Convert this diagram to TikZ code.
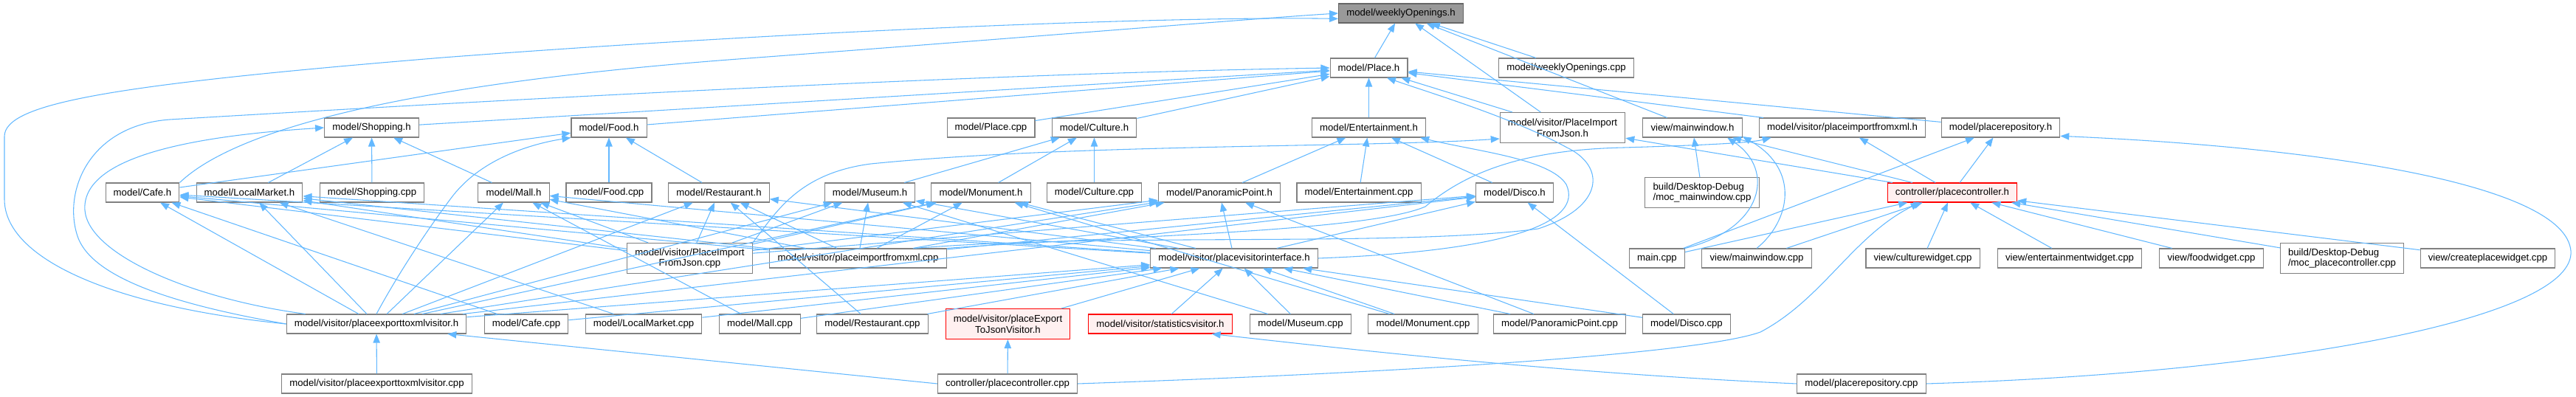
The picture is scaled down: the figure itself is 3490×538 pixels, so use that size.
\documentclass[tikz,border=0pt]{standalone}
\usepackage{fontspec}
\setmainfont{Liberation Sans}
\usetikzlibrary{arrows.meta}
\definecolor{edgeblue}{HTML}{63B8FF}
\definecolor{boxline}{HTML}{808080}
\definecolor{rootfill}{HTML}{999999}
\definecolor{rootline}{HTML}{666666}
\definecolor{warnfill}{HTML}{FFF0F0}

\begin{document}
\begin{tikzpicture}[x=0.75pt,y=-0.75pt,>={Triangle[length=9pt,width=7pt]},
  file/.style={draw=boxline,fill=white,line width=0.8pt,inner xsep=8pt,inner ysep=0pt,
    minimum height=19.5pt,font=\fontsize{9.9}{11}\selectfont,align=center},
  tall/.style={file,minimum height=30.75pt},
  rootfile/.style={file,fill=rootfill,draw=rootline},
  warnfile/.style={file,fill=warnfill,draw=red},
  dep/.style={->,draw=edgeblue,line width=0.8pt}]
  \useasboundingbox (0,0) rectangle (3490,538);
  % rows of files
  \node[rootfile] (W) at (1898,18) {model/weeklyOpenings.h};
  \node[file] (P) at (1854.5,92) {model/Place.h};
  \node[file] (WC) at (2122,92) {model/weeklyOpenings.cpp};
  \node[file] (SH) at (503.5,173) {model/Shopping.h};
  \node[file] (FH) at (825,173) {model/Food.h};
  \node[file] (PCPP) at (1342.5,173) {model/Place.cpp};
  \node[file] (CH) at (1482.5,173) {model/Culture.h};
  \node[file] (EH) at (1854.5,173) {model/Entertainment.h};
  \node[tall] (PIJH) at (2117,173) {model/visitor/PlaceImport\\FromJson.h};
  \node[file] (MWH) at (2293,173) {view/mainwindow.h};
  \node[file] (PIXH) at (2496,173) {model/visitor/placeimportfromxml.h};
  \node[file] (PRH) at (2710.5,173) {model/placerepository.h};
  \node[file] (CAH) at (193,261) {model/Cafe.h};
  \node[file] (LMH) at (338,261) {model/LocalMarket.h};
  \node[file] (SCPP) at (504,261) {model/Shopping.cpp};
  \node[file] (MAH) at (696,261) {model/Mall.h};
  \node[file] (FCPP) at (825,261) {model/Food.cpp};
  \node[file] (RH) at (974,261) {model/Restaurant.h};
  \node[file] (MUH) at (1178.5,261) {model/Museum.h};
  \node[file] (MOH) at (1329,261) {model/Monument.h};
  \node[file] (CCPP) at (1482.5,261) {model/Culture.cpp};
  \node[file] (PPH) at (1652,261) {model/PanoramicPoint.h};
  \node[file] (ECPP) at (1841,261) {model/Entertainment.cpp};
  \node[file] (DH) at (2052,261) {model/Disco.h};
  \node[tall,align=left] (MOCMW) at (2306,261) {build/Desktop-Debug\\/moc\_mainwindow.cpp};
  \node[warnfile] (PCH) at (2645,261) {controller/placecontroller.h};
  \node[tall] (PIJC) at (934.5,350) {model/visitor/PlaceImport\\FromJson.cpp};
  \node[file] (PIXC) at (1162.5,350) {model/visitor/placeimportfromxml.cpp};
  \node[file] (PVI) at (1672,350) {model/visitor/placevisitorinterface.h};
  \node[file] (MAIN) at (2245,350) {main.cpp};
  \node[file] (MWC) at (2380,350) {view/mainwindow.cpp};
  \node[file] (CWC) at (2605,350) {view/culturewidget.cpp};
  \node[file] (EWC) at (2804,350) {view/entertainmentwidget.cpp};
  \node[file] (FWC) at (2996,350) {view/foodwidget.cpp};
  \node[tall,align=left] (MOCPC) at (3173,350) {build/Desktop-Debug\\/moc\_placecontroller.cpp};
  \node[file] (CPW) at (3370.5,350) {view/createplacewidget.cpp};
  \node[file] (PEXH) at (510,439) {model/visitor/placeexporttoxmlvisitor.h};
  \node[file] (CACPP) at (713,439) {model/Cafe.cpp};
  \node[file] (LMCPP) at (872,439) {model/LocalMarket.cpp};
  \node[file] (MACPP) at (1029.5,439) {model/Mall.cpp};
  \node[file] (RCPP) at (1182,439) {model/Restaurant.cpp};
  \node[warnfile,minimum height=30.75pt] (PEJH) at (1365.5,439) {model/visitor/placeExport\\ToJsonVisitor.h};
  \node[warnfile] (STH) at (1572,439) {model/visitor/statisticsvisitor.h};
  \node[file] (MUCPP) at (1762,439) {model/Museum.cpp};
  \node[file] (MOCPP) at (1928,439) {model/Monument.cpp};
  \node[file] (PPCPP) at (2113,439) {model/PanoramicPoint.cpp};
  \node[file] (DCPP) at (2285,439) {model/Disco.cpp};
  \node[file] (PEXC) at (510.5,520) {model/visitor/placeexporttoxmlvisitor.cpp};
  \node[file] (PCC) at (1365,520) {controller/placecontroller.cpp};
  \node[file] (PRC) at (2522,520) {model/placerepository.cpp};
  % straight includes
  \foreach \a/\b in {P/W,WC/W,MWH/W,PIJH/W,SH/P,FH/P,PCPP/P,CH/P,EH/P,PIJH/P,PIXH/P,PRH/P,
    LMH/SH,SCPP/SH,MAH/SH,CAH/FH,FCPP/FH,RH/FH,MUH/CH,MOH/CH,CCPP/CH,ECPP/EH,DH/EH,PPH/EH,
    PCH/PIJH,PCH/MWH,PCH/PIXH,PCH/PRH,MOCMW/MWH,MAIN/PRH,MAIN/PCH,MWC/PCH,CWC/PCH,EWC/PCH,
    FWC/PCH,MOCPC/PCH,CPW/PCH,CACPP/CAH,LMCPP/LMH,MACPP/MAH,RCPP/RH,MUCPP/MUH,MOCPP/MOH,
    PPCPP/PPH,DCPP/DH,CACPP/PVI,LMCPP/PVI,MACPP/PVI,RCPP/PVI,PEJH/PVI,STH/PVI,MUCPP/PVI,
    MOCPP/PVI,PPCPP/PVI,DCPP/PVI,PEXH/PVI,PEXC/PEXH,PCC/PEJH}
    \draw[dep] (\a) -- (\b);
  \foreach \a in {PVI,PIJC,PIXC,PEXH}
    \foreach \b in {CAH,LMH,MAH,RH,MUH,MOH,PPH,DH}
      \draw[dep] (\a) -- (\b);
  % routed includes
  \draw[dep] (CAH.north east) .. controls (330,165) and (600,110) .. (1000,80) .. controls (1400,50) and (1700,25) .. (W.west);
  \draw[dep] (PEXH.west) .. controls (150,415) and (6,350) .. (6,270) -- (6,185) .. controls (6,140) and (150,115) .. (600,78) .. controls (1100,40) and (1600,22) .. (W.185);
  \draw[dep] (PEXH.west) .. controls (250,415) and (125,380) .. (105,320) .. controls (85,260) and (120,170) .. (230,162) .. controls (600,140) and (1300,100) .. (P.west);
  \draw[dep] (PEXH.172) .. controls (260,405) and (120,345) .. (115,285) .. controls (110,215) and (250,185) .. (SH.west);
  \draw[dep] (PEXH.north) .. controls (540,370) and (580,310) .. (610,270) .. controls (650,215) and (720,195) .. (FH.south west);
  \draw[dep] (PIJC.north east) .. controls (1050,290) and (1080,235) .. (1180,222) .. controls (1450,195) and (1850,200) .. (PIJH.190);
  \draw[dep] (PIXC.north east) .. controls (1500,320) and (1850,315) .. (1931,280) .. controls (1985,235) and (2060,203) .. (2200,200) .. controls (2300,197) and (2370,194) .. (PIXH.188);
  \draw[dep] (PIXC.10) .. controls (1500,315) and (1900,335) .. (2084,310) .. controls (2175,280) and (2175,225) .. (2123,200) .. controls (2050,160) and (1950,130) .. (P.-29);
  \draw[dep] (PVI.east) .. controls (2050,340) and (2145,300) .. (2122,250) .. controls (2100,215) and (2000,205) .. (EH.-11);
  \draw[dep] (MAIN.north east) .. controls (2390,310) and (2405,230) .. (MWH.-16);
  \draw[dep] (MWC.north) .. controls (2425,300) and (2440,230) .. (MWH.-10);
  \draw[dep] (PCC.east) .. controls (1900,505) and (2300,480) .. (2385,450) .. controls (2470,405) and (2510,320) .. (PCH.197);
  \draw[dep] (PRC.east) .. controls (3100,505) and (3490,430) .. (3483,340) .. controls (3475,250) and (3150,200) .. (PRH.-8);
  \draw[dep] (PRC.west) .. controls (2100,505) and (1800,470) .. (STH.-11);
  \draw[dep] (PCC.west) -- (PEXH.-8);
\end{tikzpicture}
\end{document}
